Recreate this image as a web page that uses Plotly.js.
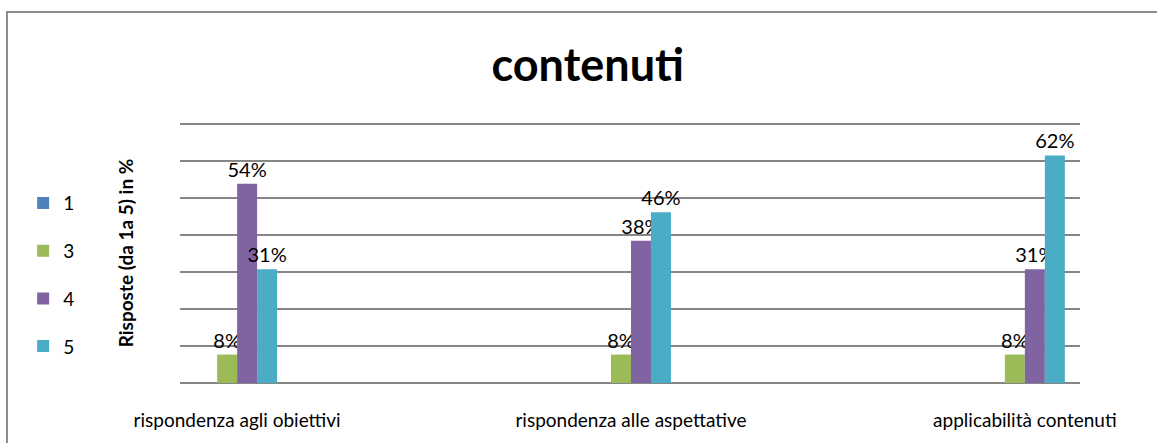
<!DOCTYPE html>
<html>
<head>
<meta charset="utf-8">
<script src="https://cdn.plot.ly/plotly-3.0.1.min.js"></script>
<style>
  html, body { margin: 0; padding: 0; background: #ffffff; }
  #frame { position: absolute; left: 6px; top: 11px; width: 1151px; height: 432px;
           border-left: 2px solid #8c8c8c; border-top: 2px solid #8c8c8c; box-sizing: border-box; }
  #chart { position: absolute; left: 0; top: 0; width: 1157px; height: 443px; }
</style>
</head>
<body>
<div id="frame"></div>
<div id="chart"></div>
<script>
const categories = ["rispondenza agli obiettivi", "rispondenza alle aspettative", "applicabilità contenuti"];
const seriesNames = ["1", "3", "4", "5"];
const values1 = [0, 0, 0];
const values3 = [7.69, 7.69, 7.69];
const values4 = [53.85, 38.46, 30.77];
const values5 = [30.77, 46.15, 61.54];
const colors = ["#4F81BD", "#9BBB59", "#8064A2", "#4BACC6"];
const allValues = [values1, values3, values4, values5];

const FONT = "Lato, 'Open Sans', sans-serif";

const traces = allValues.map((vals, i) => ({
  type: "bar",
  name: seriesNames[i],
  x: categories,
  y: vals,
  marker: { color: colors[i], line: { width: 0 } },
  legendgroup: "g" + i,
  text: vals.map(v => v > 0 ? Math.round(v) + "%" : ""),
  texttemplate: "%{text}",
  textposition: i === 0 ? "none" : "outside",
  constraintext: "none",
  textfont: { family: FONT, size: 20, color: "#000000" },
  cliponaxis: false,
  hoverinfo: "x+y+name"
}));

const layout = {
  width: 1157,
  height: 443,
  margin: { l: 180, r: 77, t: 123, b: 60 },
  paper_bgcolor: "rgba(0,0,0,0)",
  plot_bgcolor: "rgba(0,0,0,0)",
  font: { family: FONT, color: "#000000" },
  title: {
    text: "<b>contenuti</b>",
    font: { family: FONT, size: 45, color: "#000000" },
    xref: "container", x: 0.508, xanchor: "center",
    yref: "container", y: 0.852, yanchor: "middle"
  },
  barmode: "group",
  bargap: 0.797,
  bargroupgap: 0,
  showlegend: true,
  legend: {
    xref: "container", yref: "container",
    x: 0.02, y: 0.38, xanchor: "left", yanchor: "middle",
    font: { family: FONT, size: 19, color: "#000000" },
    tracegroupgap: 20,
    traceorder: "grouped",
    bgcolor: "rgba(0,0,0,0)"
  },
  xaxis: {
    type: "category",
    range: [-0.145, 2.14],
    showgrid: false,
    zeroline: false,
    showline: false,
    ticks: "outside",
    ticklen: 20,
    tickcolor: "rgba(0,0,0,0)",
    tickfont: { family: FONT, size: 19, color: "#000000" }
  },
  yaxis: {
    range: [0, 70.3],
    tickvals: [0, 10, 20, 30, 40, 50, 60, 70],
    showticklabels: false,
    showgrid: true,
    gridcolor: "#868686",
    gridwidth: 2,
    zeroline: true,
    zerolinecolor: "#868686",
    zerolinewidth: 2,
    showline: false,
    title: {
      text: "<b>Risposte (da 1a 5) in %</b>",
      font: { family: FONT, size: 19, color: "#000000" },
      standoff: 40
    }
  }
};

Plotly.newPlot("chart", traces, layout, { displayModeBar: false, staticPlot: true });
</script>
</body>
</html>
